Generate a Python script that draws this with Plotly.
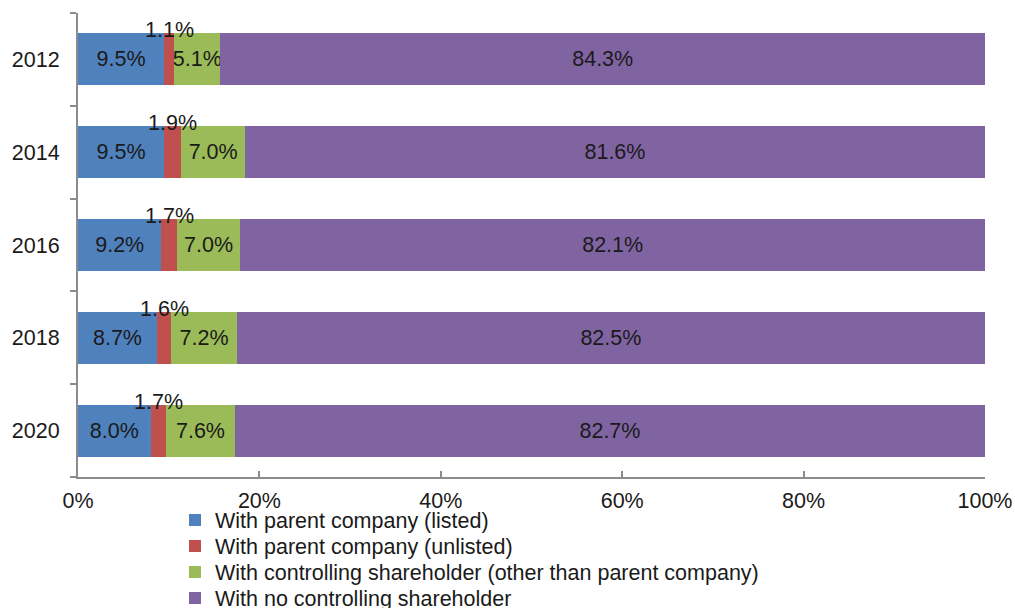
import plotly.graph_objects as go

years = ["2012", "2014", "2016", "2018", "2020"]
listed = [9.5, 9.5, 9.2, 8.7, 8.0]
unlisted = [1.1, 1.9, 1.7, 1.6, 1.7]
controlling = [5.1, 7.0, 7.0, 7.2, 7.6]
no_controlling = [84.3, 81.6, 82.1, 82.5, 82.7]

series_names = [
    "With parent company (listed)",
    "With parent company (unlisted)",
    "With controlling shareholder (other than parent company)",
    "With no controlling shareholder",
]
colors = ["#4F81BD", "#C0504D", "#9BBB59", "#8064A2"]
x_ticks = [0, 20, 40, 60, 80, 100]

FONT = "Liberation Sans, Arial, sans-serif"
FS = 21.5
TXT = "#1a1a1a"

pos = list(range(len(years)))  # category slots on the y axis

fig = go.Figure()
all_series = [listed, unlisted, controlling, no_controlling]
legend_ids = ["legend2", "legend3", "legend4", "legend5"]
for i, (vals, name, col) in enumerate(zip(all_series, series_names, colors)):
    show_text = i != 1
    fig.add_trace(go.Bar(
        y=pos, x=vals, name=name, orientation="h",
        marker=dict(color=col, line=dict(width=0)),
        text=[f"{v:.1f}%" for v in vals] if show_text else None,
        textposition="inside" if show_text else "none",
        insidetextanchor="middle",
        textangle=0,
        constraintext="none",
        textfont=dict(family=FONT, size=FS, color=TXT),
        legend=legend_ids[i],
        hovertemplate="%{x:.1f}%<extra>" + name + "</extra>",
    ))

# labels for the thin unlisted segment, placed just above the bar
for p, a, b in zip(pos, listed, unlisted):
    fig.add_annotation(
        x=a + b / 2, y=p, text=f"{b:.1f}%", showarrow=False,
        yshift=29, xref="x", yref="y",
        font=dict(family=FONT, size=FS, color=TXT),
    )

axis_col = "#8c8c8c"
leg_rows_px = [520, 546, 572, 598]
plot_top, plot_bottom = 13, 477
ph = plot_bottom - plot_top
layout_legends = {}
for lid, py in zip(legend_ids, leg_rows_px):
    layout_legends[lid] = dict(
        x=(175 - 78) / 907, xanchor="left",
        y=(plot_bottom - py) / ph, yanchor="middle",
        bgcolor="rgba(0,0,0,0)", borderwidth=0,
        font=dict(family=FONT, size=FS, color=TXT),
    )

fig.update_layout(
    width=1015, height=608,
    margin=dict(l=78, r=30, t=13, b=131, autoexpand=False),
    barmode="stack", bargap=0.44,
    paper_bgcolor="white", plot_bgcolor="white",
    font=dict(family=FONT, size=FS, color=TXT),
    uniformtext=dict(minsize=FS, mode="show"),
    **layout_legends,
)
fig.update_xaxes(
    range=[0, 100], tickvals=x_ticks, ticktext=[f"{t}%" for t in x_ticks],
    showgrid=False, zeroline=False,
    showline=True, linecolor=axis_col, linewidth=2,
    ticks="inside", ticklen=6, tickcolor=axis_col, tickwidth=2,
    ticklabelstandoff=3,
    tickfont=dict(family=FONT, size=FS, color=TXT),
)
bounds = [p - 0.5 for p in pos] + [pos[-1] + 0.5]
fig.update_yaxes(
    range=[pos[-1] + 0.5, pos[0] - 0.5],
    tickvals=pos, ticktext=years, ticks="",
    minor=dict(tickvals=bounds, ticks="outside", ticklen=6,
               tickcolor=axis_col, tickwidth=2, showgrid=False),
    showgrid=False, zeroline=False,
    showline=True, linecolor=axis_col, linewidth=2,
    ticklabelstandoff=12,
    tickfont=dict(family=FONT, size=FS, color=TXT),
)

fig.write_html(
    "out.html",
    config={"displayModeBar": False},
    post_script="document.body.style.margin='0';document.body.style.overflow='hidden';",
)
